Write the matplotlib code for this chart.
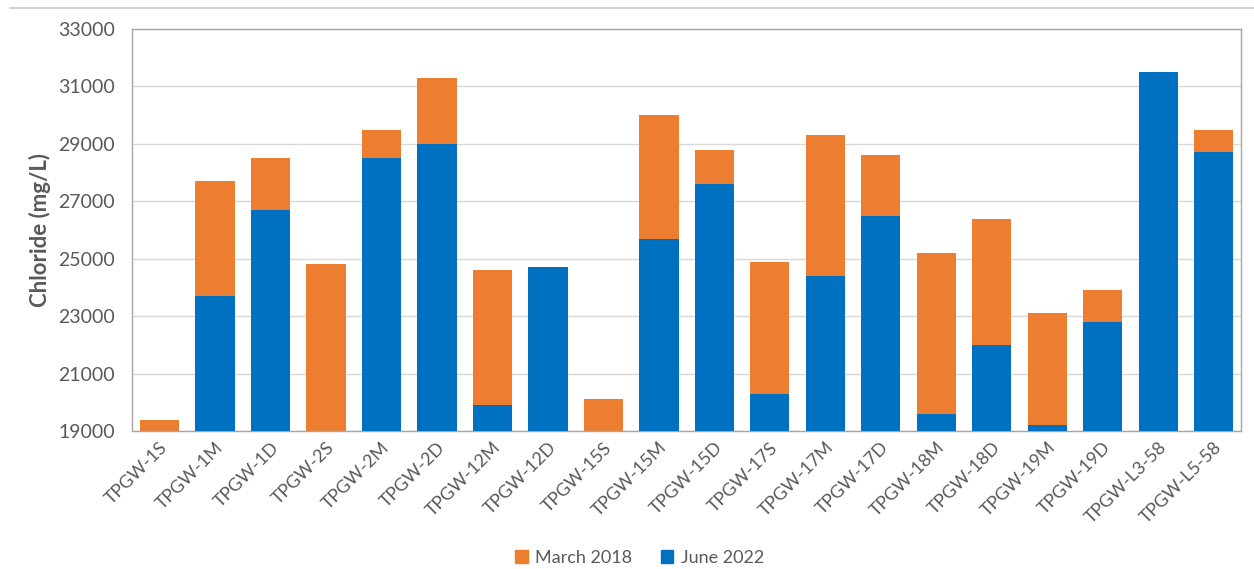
import numpy as np
import matplotlib.pyplot as plt
from matplotlib.lines import Line2D
from matplotlib.patches import Patch

wells = ['TPGW-1S', 'TPGW-1M', 'TPGW-1D', 'TPGW-2S', 'TPGW-2M', 'TPGW-2D',
         'TPGW-12M', 'TPGW-12D', 'TPGW-15S', 'TPGW-15M', 'TPGW-15D', 'TPGW-17S',
         'TPGW-17M', 'TPGW-17D', 'TPGW-18M', 'TPGW-18D', 'TPGW-19M', 'TPGW-19D',
         'TPGW-L3-58', 'TPGW-L5-58']

# chloride, mg/L
march_2018 = [19400, 27700, 28500, 24800, 29500, 31300, 24600, 0, 20100, 30000,
              28800, 24900, 29300, 28600, 25200, 26400, 23100, 23900, 0, 29500]
june_2022 = [18900, 23700, 26700, 18900, 28500, 29000, 19900, 24700, 18900, 25700,
             27600, 20300, 24400, 26500, 19600, 22000, 19200, 22800, 31500, 28700]

orange = '#ED7D31'
blue = '#0070C0'
txt = '#595959'

plt.rcParams['font.family'] = ['Lato', 'DejaVu Sans']

fig = plt.figure(figsize=(12.54, 5.69), dpi=100)
ax = fig.add_axes([0.105, 0.2425, 0.885, 0.7065])

x = np.arange(len(wells))
ax.bar(x, march_2018, width=0.71, color=orange, zorder=2)
ax.bar(x, june_2022, width=0.71, color=blue, zorder=3)

ax.set_ylim(19000, 33000)
ax.set_xlim(-0.5, len(wells) - 0.5)
ax.set_yticks(np.arange(19000, 33001, 2000))
ax.yaxis.grid(True, color='#D9D9D9', linewidth=1, zorder=0)
ax.set_axisbelow(True)

for s in ax.spines.values():
    s.set_color('#A6A6A6')
    s.set_linewidth(1)

ax.tick_params(axis='both', length=0, colors=txt)
ax.tick_params(axis='y', pad=12, labelsize=14)
ax.tick_params(axis='x', pad=6, labelsize=13)
ax.set_xticks(x)
ax.set_xticklabels(wells, rotation=45, ha='right', rotation_mode='anchor')

ax.set_ylabel('Chloride (mg/L)', fontsize=16, fontweight='bold', color=txt, labelpad=5)

handles = [Patch(color=orange, label='March 2018'), Patch(color=blue, label='June 2022')]
fig.legend(handles=handles, loc='center', bbox_to_anchor=(0.51, 0.02), ncol=2,
           frameon=False, fontsize=13, handlelength=0.7, handleheight=0.7,
           handletextpad=0.4, columnspacing=1.6, labelcolor=txt)

# thin rule along the top edge
fig.add_artist(Line2D([0.008, 1.0], [0.986, 0.986], color='#C8C8C8', linewidth=1.2,
                      transform=fig.transFigure))

fig.savefig('out.png', dpi=100)
